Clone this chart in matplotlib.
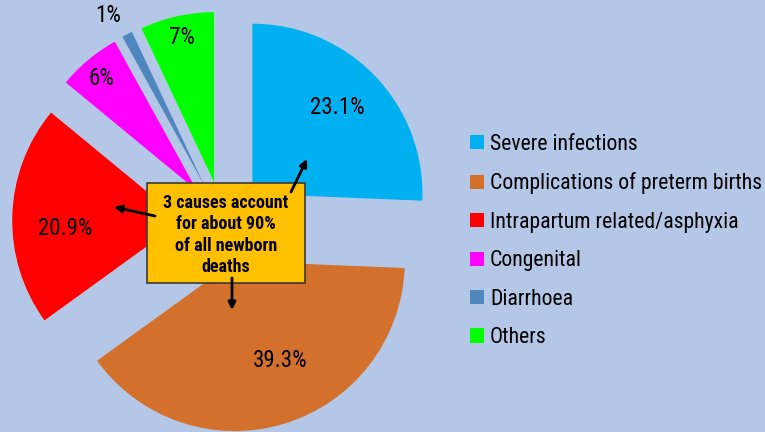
import numpy as np
import matplotlib
matplotlib.use("Agg")
import matplotlib.pyplot as plt
from matplotlib.patches import Rectangle

# slice shares, printed labels as shown
categories = [
    "Severe infections",
    "Complications of preterm births",
    "Intrapartum related/asphyxia",
    "Congenital",
    "Diarrhoea",
    "Others",
]
shares = [25.6, 39.3, 20.9, 6.0, 1.0, 7.0]
pct_labels = ["23.1%", "39.3%", "20.9%", "6%", "1%", "7%"]
colors = ["#00B0F0", "#D2702C", "#FF0000", "#FF00FF", "#4F86BD", "#00FF00"]

# label placement: distance (in radii) and angle shift (deg) from each wedge's bisector
label_dist = [0.71, 0.645, 0.69, 0.865, 1.15, 0.873]
label_shift = [1.5, 7.6, 5.4, 0.9, 2.3, -0.2]

note = "3 causes account\nfor about 90%\nof all newborn\ndeaths"

BG = "#B4C7E7"
FONT = ["Roboto Condensed", "Liberation Sans", "DejaVu Sans"]
plt.rcParams["font.family"] = FONT

W, H = 765, 432
R_PX = 170.0
CX, CY = 223.0, 222.0

fig = plt.figure(figsize=(W / 100, H / 100), dpi=100, facecolor=BG)
ax = fig.add_axes([0, 0, 1, 1])
ax.set_facecolor(BG)

wedges, _ = ax.pie(
    shares,
    colors=colors,
    startangle=90,
    counterclock=False,
    explode=[0.24] * len(shares),
    radius=1.0,
    wedgeprops={"linewidth": 0},
)
ax.set_aspect("auto")
ax.set_xlim(-CX / R_PX, (W - CX) / R_PX)
ax.set_ylim(-(H - CY) / R_PX, CY / R_PX)
ax.axis("off")

for w, lab, d, s in zip(wedges, pct_labels, label_dist, label_shift):
    mid = np.deg2rad((w.theta1 + w.theta2) / 2 + s)
    cx, cy = w.center
    ax.text(cx + d * w.r * np.cos(mid), cy + d * w.r * np.sin(mid), lab,
            ha="center", va="center", fontsize=16.5, color="black")

ax.legend(
    wedges, categories,
    loc="upper left",
    bbox_to_anchor=(470 / W, 1 - 134 / H),
    bbox_transform=fig.transFigure,
    frameon=False,
    fontsize=15.7,
    handlelength=0.62,
    handleheight=0.62,
    handletextpad=0.3,
    labelspacing=0.8,
    borderpad=0,
    borderaxespad=0,
)

# overlay in pixel coordinates for the call-out box and arrows
ov = fig.add_axes([0, 0, 1, 1], facecolor="none")
ov.set_xlim(0, W)
ov.set_ylim(H, 0)
ov.axis("off")

ov.add_patch(Rectangle((147, 183), 158, 100, facecolor="#FFC000",
                       edgecolor="#3A3A3A", linewidth=1.2, zorder=3))
ov.text(226, 235, note, ha="center", va="center", fontsize=13,
        fontweight="bold", linespacing=1.25, zorder=4)

arrow = dict(arrowstyle="-|>", color="black", lw=2, mutation_scale=11,
             shrinkA=0, shrinkB=0)
ov.annotate("", xy=(307, 159), xytext=(291, 192), arrowprops=arrow, zorder=5)
ov.annotate("", xy=(114, 207), xytext=(155, 216), arrowprops=arrow, zorder=5)
ov.annotate("", xy=(232, 310), xytext=(232, 278), arrowprops=arrow, zorder=5)

fig.savefig("out.png", dpi=100, facecolor=BG)
